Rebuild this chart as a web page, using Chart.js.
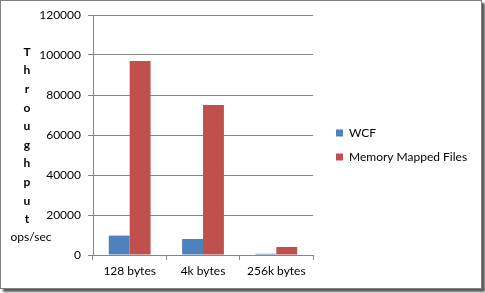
<!DOCTYPE html>
<html lang="en">
<head>
    <meta charset="UTF-8">
    <title>Throughput</title>
    <style>
        body {
            margin: 0;
            padding: 0;
            background: #fff;
            width: 485px;
            height: 293px;
            overflow: hidden;
            font-family: Lato, Arial, sans-serif;
        }

        .frame {
            position: absolute;
            left: 0;
            top: 0;
            width: 480px;
            height: 287px;
            border: 1px solid #808080;
            box-shadow: 3px 3px 2px #5a5a5a;
            background: #fff;
        }

        #wrap {
            position: absolute;
            left: 0;
            top: 0;
            width: 485px;
            height: 293px;
        }
    </style>
</head>
<body>
    <div class="frame"></div>
    <div id="wrap"><canvas id="chart"></canvas></div>

    <script src="https://cdn.jsdelivr.net/npm/chart.js"></script>
    <script>
        // data
        const categories = ['128 bytes', '4k bytes', '256k bytes'];
        const wcf = [9700, 8000, 600];
        const mmf = [97000, 75000, 4000];
        const seriesNames = ['WCF', 'Memory Mapped Files'];
        const yTicks = [0, 20000, 40000, 60000, 80000, 100000, 120000];

        const axisGray = '#868686';
        const font = { family: 'Lato, Arial, sans-serif', size: 12 };

        // vertical "Throughput" + "ops/sec" label on the left
        const sideTitle = {
            id: 'sideTitle',
            afterDraw(chart) {
                const ctx = chart.ctx;
                ctx.save();
                ctx.fillStyle = '#000';
                ctx.textAlign = 'center';
                ctx.textBaseline = 'middle';
                ctx.font = 'bold 12px Lato, Arial, sans-serif';
                const word = 'Throughput';
                for (let i = 0; i < word.length; i++) {
                    ctx.fillText(word[i], 27, 52 + i * 18.6);
                }
                ctx.font = '12px Lato, Arial, sans-serif';
                ctx.fillText('ops/sec', 31, 237);
                ctx.restore();
            }
        };

        // nudge the legend to where Excel put it (and don't clip the long label)
        const legendShift = {
            id: 'legendShift',
            afterLayout(chart) {
                const l = chart.legend;
                l.left += 11;
                l.right = chart.width;
                l.top -= 8;
                l.bottom -= 7;
            }
        };

        const ctx = document.getElementById('chart').getContext('2d');
        const chart = new Chart(ctx, {
            type: 'bar',
            data: {
                labels: categories,
                datasets: [{
                    label: seriesNames[0],
                    data: wcf,
                    backgroundColor: '#4f81bd'
                }, {
                    label: seriesNames[1],
                    data: mmf,
                    backgroundColor: '#c0504d'
                }]
            },
            options: {
                responsive: true,
                maintainAspectRatio: false,
                animation: false,
                layout: {
                    padding: { top: 15, bottom: 3, left: 0, right: 72 }
                },
                datasets: {
                    bar: { categoryPercentage: 0.57, barPercentage: 1 }
                },
                plugins: {
                    tooltip: { enabled: false },
                    legend: {
                        position: 'right',
                        maxWidth: 100,
                        labels: {
                            boxWidth: 7,
                            boxHeight: 7,
                            padding: 12,
                            color: '#000',
                            font: font
                        }
                    }
                },
                scales: {
                    x: {
                        offset: true,
                        grid: {
                            offset: true,
                            drawOnChartArea: false,
                            drawTicks: true,
                            tickLength: 5,
                            color: axisGray
                        },
                        border: { color: axisGray },
                        ticks: { color: '#000', font: font, padding: 4 },
                        afterFit(scale) { scale.height = 35; }
                    },
                    y: {
                        min: 0,
                        max: 120000,
                        afterBuildTicks(scale) {
                            scale.ticks = yTicks.map(v => ({ value: v }));
                        },
                        grid: {
                            color: axisGray,
                            drawTicks: true,
                            tickLength: 5
                        },
                        border: { color: axisGray },
                        ticks: {
                            color: '#000',
                            font: font,
                            padding: 7,
                            callback: v => String(v)
                        },
                        afterFit(scale) { scale.width = 93; }
                    }
                }
            },
            plugins: [sideTitle, legendShift]
        });
    </script>
</body>
</html>
